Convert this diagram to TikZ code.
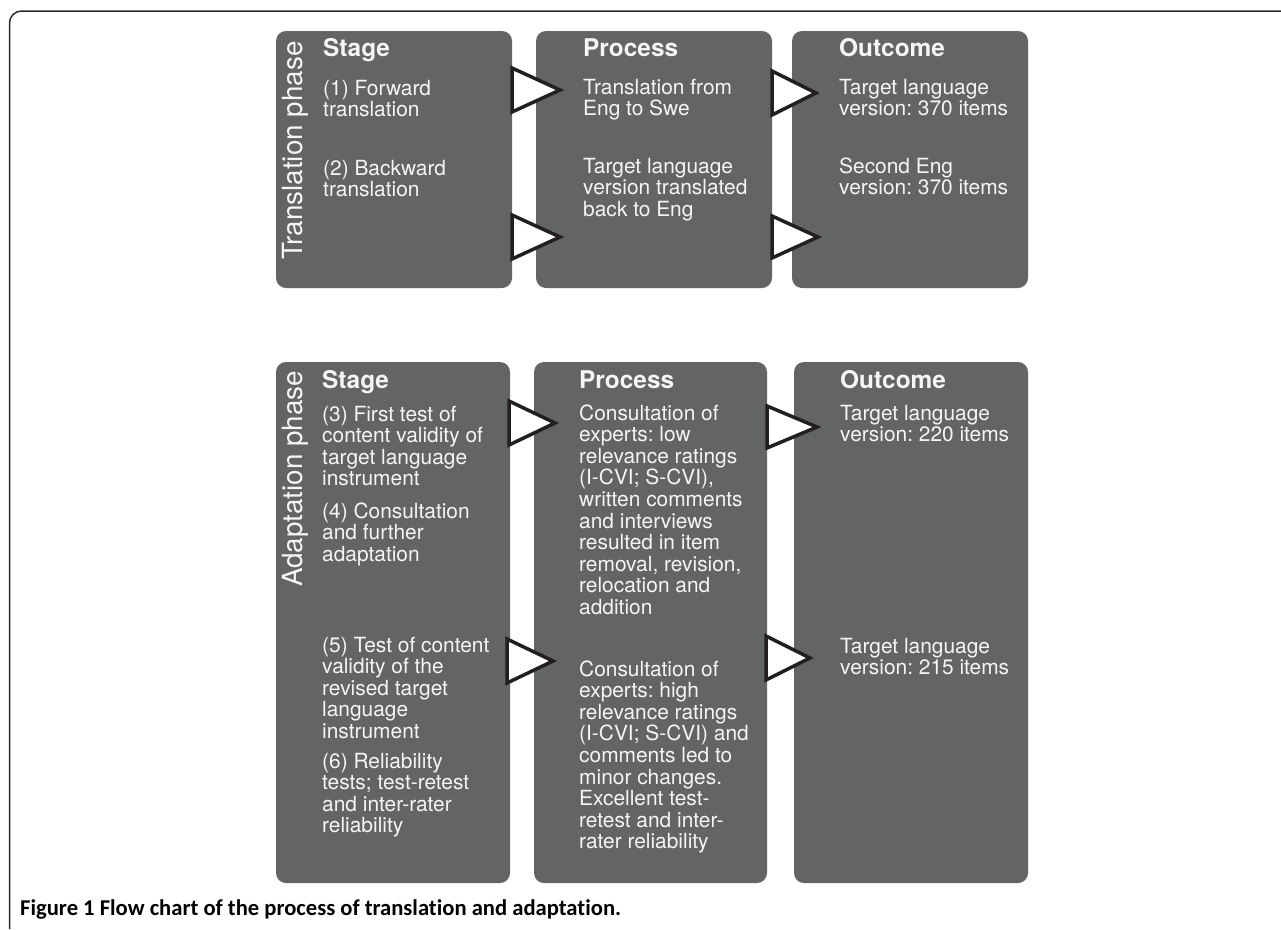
\documentclass[tikz,border=0pt]{standalone}
\usepackage{fontspec}
\setmainfont{TeX Gyre Heros}
\newfontfamily\capfont[Ligatures={NoCommon}]{Carlito}
\usetikzlibrary{calc}
\definecolor{boxgray}{HTML}{636466}
\definecolor{txt}{HTML}{F5F5F5}
\definecolor{tricol}{HTML}{231F20}
\definecolor{framec}{HTML}{2B2B2B}
\frenchspacing
\newcommand{\mylines}[1]{\vtop{\lineskip=0pt\lineskiplimit=-100pt\halign{##\hfil\cr#1\crcr}}}
\begin{document}
\begin{tikzpicture}[x=1pt,y=-1pt,
 box/.style={fill=boxgray, rounded corners=10pt, inner sep=0pt, outer sep=0pt, anchor=north west, draw=none},
 head/.style={anchor=base west, inner sep=0pt, text=txt, font=\fontsize{24.4}{26}\selectfont\bfseries},
 body/.style={anchor=base west, inner sep=0pt, text=txt, font=\fontsize{20.9}{21.6}\selectfont},
 phase/.style={anchor=base west, inner sep=0pt, rotate=90, text=txt, font=\fontsize{27.8}{30}\selectfont},
 tri/.style={draw=tricol, fill=white, line width=3.5pt, line join=miter},
 frame/.style={draw=framec, line width=1.5pt, rounded corners=12pt}]
\useasboundingbox (0,0) rectangle (1281,929);
\fill[white] (0,0) rectangle (1281,929);
% outer frame
\coordinate (fa) at (9.5,929);
\coordinate (fb) at (1281,11);
\draw[frame] (fa) |- (fb);
% top row boxes
\node[box, minimum width=236pt, minimum height=257pt] (s1) at (276,31) {};
\node[box, minimum width=236pt, minimum height=257pt] (p1) at (536,31) {};
\node[box, minimum width=236pt, minimum height=257pt] (o1) at (792,31) {};
% bottom row boxes
\node[box, minimum width=234pt, minimum height=521pt] (s2) at (276,362) {};
\node[box, minimum width=233pt, minimum height=521pt] (p2) at (534,362) {};
\node[box, minimum width=234pt, minimum height=521pt] (o2) at (794,362) {};
% phase labels
\node[phase] (ph1) at (302,260) {Translation phase};
\node[phase] (ph2) at (302,587) {Adaptation phase};
% headings
\node[head] (s1h) at (323,56) {Stage};
\node[head] (p1h) at (583,56) {Process};
\node[head] (o1h) at (839,56) {Outcome};
\node[head] (s2h) at (322,388) {Stage};
\node[head] (p2h) at (579,388) {Process};
\node[head] (o2h) at (840,388) {Outcome};
% top texts
\node[body] (s1a) at (323,95) {\mylines{(1) Forward\cr translation}};
\node[body] (s1b) at (323,175) {\mylines{(2) Backward\cr translation}};
\node[body] (p1a) at (583,94) {\mylines{Translation from\cr Eng to Swe}};
\node[body] (p1b) at (583,173) {\mylines{Target language\cr version translated\cr back to Eng}};
\node[body] (o1a) at (839,94) {\mylines{Target language\cr version: 370 items}};
\node[body] (o1b) at (839,173) {\mylines{Second Eng\cr version: 370 items}};
% bottom texts
\node[body] (s2a) at (322,421) {\mylines{(3) First test of\cr content validity of\cr target language\cr instrument}};
\node[body] (s2b) at (322,518) {\mylines{(4) Consultation\cr and further\cr adaptation}};
\node[body] (s2c) at (322,652) {\mylines{(5) Test of content\cr validity of the\cr revised target\cr language\cr instrument}};
\node[body] (s2d) at (322,768) {\mylines{(6) Reliability\cr tests; test-retest\cr and inter-rater\cr reliability}};
\node[body] (p2a) at (579,420) {\mylines{Consultation of\cr experts: low\cr relevance ratings\cr (I-CVI; S-CVI),\cr written comments\cr and interviews\cr resulted in item\cr removal, revision,\cr relocation and\cr addition}};
\node[body] (p2b) at (579,676) {\mylines{Consultation of\cr experts: high\cr relevance ratings\cr (I-CVI; S-CVI) and\cr comments led to\cr minor changes.\cr Excellent test-\cr retest and inter-\cr rater reliability}};
\node[body] (o2a) at (840,420) {\mylines{Target language\cr version: 220 items}};
\node[body] (o2b) at (840,653) {\mylines{Target language\cr version: 215 items}};
% arrows (triangles)
\draw[tri] ($(s1.north east)+(0,37)$) -- ++(48,22) -- ++(-48,22) -- cycle;
\draw[tri] ($(s1.north east)+(0,184)$) -- ++(48,22) -- ++(-48,22) -- cycle;
\draw[tri] ($(p1.north east)+(0,40)$) -- ++(44,22) -- ++(-44,22) -- cycle;
\draw[tri] ($(p1.north east)+(0,185)$) -- ++(46,21) -- ++(-46,21) -- cycle;
\draw[tri] ($(s2.north east)+(-1,39)$) -- ++(46,22) -- ++(-46,22) -- cycle;
\draw[tri] ($(p2.north east)+(0,44)$) -- ++(50,21) -- ++(-50,21) -- cycle;
\draw[tri] ($(s2.north east)+(-3,277)$) -- ++(46,22) -- ++(-46,22) -- cycle;
\draw[tri] ($(p2.north east)+(-1,274)$) -- ++(44,22) -- ++(-44,22) -- cycle;
% caption
\node[anchor=base west, inner sep=0pt, font=\capfont\fontsize{22.6}{24}\selectfont\bfseries] (cap) at (20,915) {Figure 1 Flow chart of the process of translation and adaptation.};
\end{tikzpicture}
\end{document}
